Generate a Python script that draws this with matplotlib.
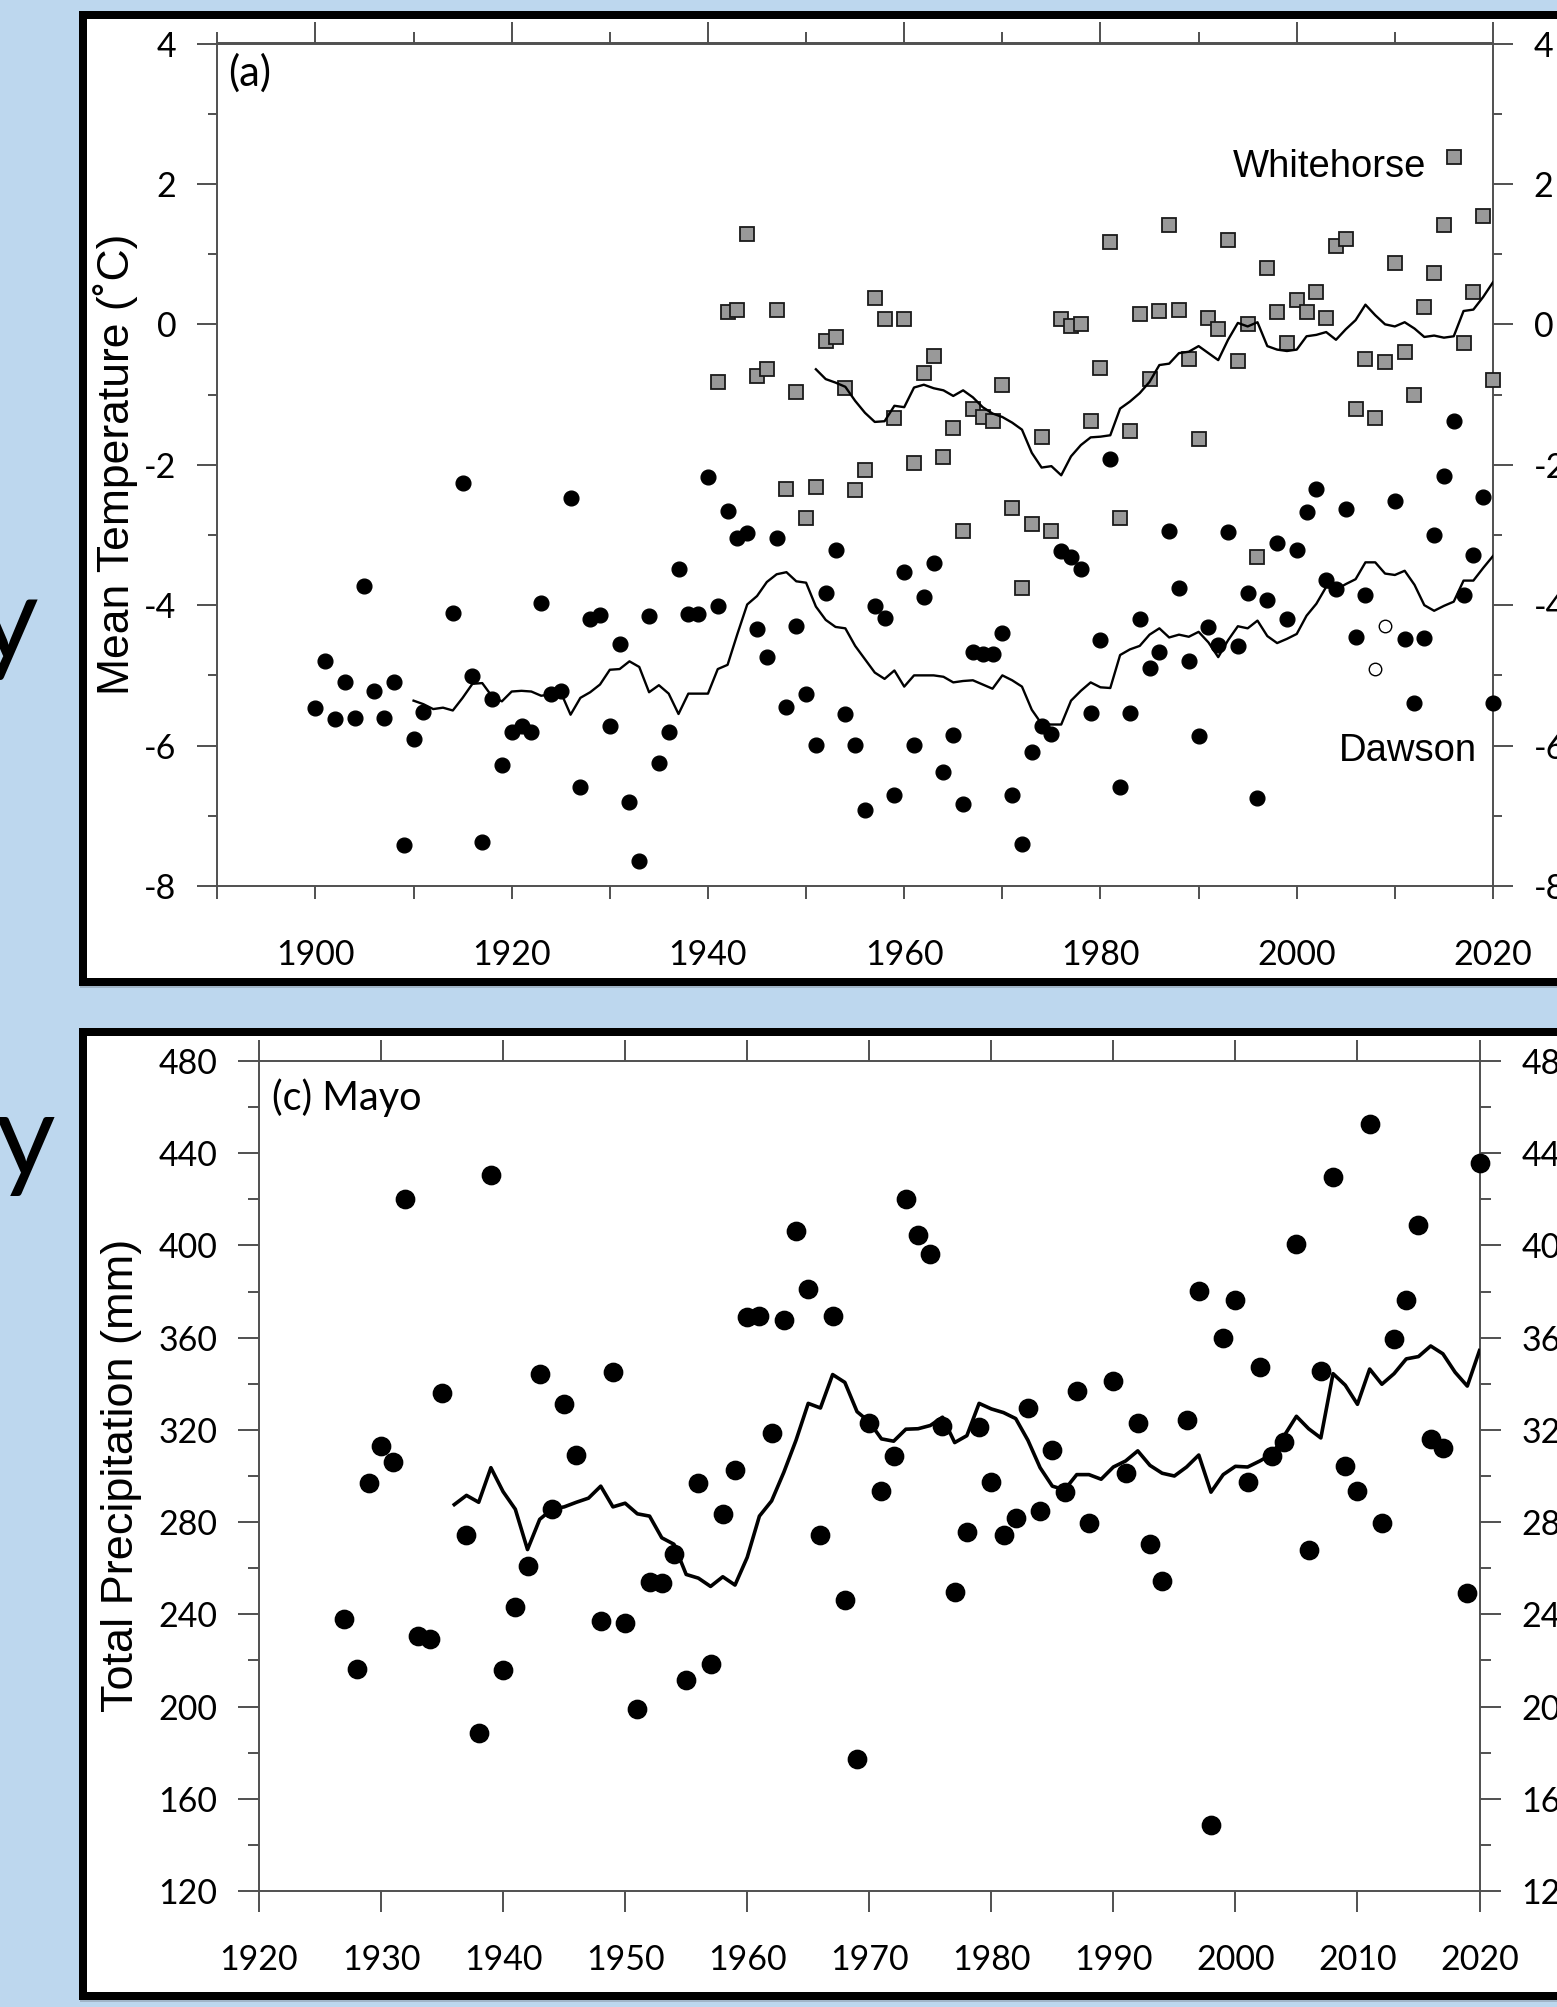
import matplotlib
matplotlib.use("Agg")
import matplotlib.pyplot as plt
from matplotlib.ticker import MultipleLocator
from matplotlib.patches import Rectangle

plt.rcParams['axes.unicode_minus'] = False

# ---------------- data: panel (a) temperature ----------------
dawson_years = [1900, 1901, 1902, 1903, 1904, 1905, 1906, 1907, 1908, 1909, 1910, 1911,
                1914, 1915, 1916, 1917, 1918, 1919, 1920, 1921, 1922, 1923, 1924, 1925,
                1926, 1927, 1928, 1929, 1930, 1931, 1932, 1933, 1934, 1935, 1936, 1937,
                1938, 1939, 1940, 1941, 1942, 1943, 1944, 1945, 1946, 1947, 1948, 1949,
                1950, 1951, 1952, 1953, 1954, 1955, 1956, 1957, 1958, 1959, 1960, 1961,
                1962, 1963, 1964, 1965, 1966, 1967, 1968, 1969, 1970, 1971, 1972, 1973,
                1974, 1975, 1976, 1977, 1978, 1979, 1980, 1981, 1982, 1983, 1984, 1985,
                1986, 1987, 1988, 1989, 1990, 1991, 1992, 1993, 1994, 1995, 1996, 1997,
                1998, 1999, 2000, 2001, 2002, 2003, 2004, 2005, 2006, 2007, 2010, 2011,
                2012, 2013, 2014, 2015, 2016, 2017, 2018, 2019, 2020]
dawson_temp = [-5.47, -4.80, -5.62, -5.09, -5.60, -3.72, -5.22, -5.60, -5.09, -7.42, -5.90, -5.52,
               -4.11, -2.26, -5.01, -7.38, -5.33, -6.28, -5.81, -5.72, -5.80, -3.97, -5.27, -5.22,
               -2.47, -6.59, -4.20, -4.14, -5.72, -4.55, -6.80, -7.64, -4.16, -6.25, -5.80, -3.49,
               -4.12, -4.12, -2.18, -4.01, -2.66, -3.05, -2.97, -4.34, -4.74, -3.05, -5.45, -4.30,
               -5.26, -5.99, -3.82, -3.22, -5.55, -5.99, -6.92, -4.01, -4.18, -6.70, -3.53, -5.99,
               -3.89, -3.40, -6.37, -5.85, -6.83, -4.66, -4.69, -4.69, -4.39, -6.71, -7.40, -6.09,
               -5.72, -5.83, -3.23, -3.32, -3.48, -5.54, -4.50, -1.92, -6.59, -5.54, -4.19, -4.90,
               -4.67, -2.94, -3.75, -4.79, -5.87, -4.31, -4.57, -2.96, -4.58, -3.83, -6.75, -3.92,
               -3.11, -4.19, -3.21, -2.67, -2.34, -3.64, -3.77, -2.63, -4.46, -3.85, -2.52, -4.48,
               -5.40, -4.47, -3.00, -2.16, -1.38, -3.85, -3.29, -2.46, -5.40]

dawson_open_years = [2008, 2009]
dawson_open_temp = [-4.91, -4.29]

dawson_mean_years = list(range(1910, 2021))
dawson_mean = [-5.36, -5.41, -5.48, -5.46, -5.50, -5.32, -5.12, -5.11, -5.30, -5.37,
               -5.23, -5.22, -5.23, -5.29, -5.27, -5.24, -5.56, -5.32, -5.24, -5.13,
               -4.92, -4.91, -4.80, -4.88, -5.24, -5.14, -5.26, -5.55, -5.26, -5.26,
               -5.26, -4.91, -4.85, -4.41, -3.99, -3.87, -3.67, -3.56, -3.53, -3.66,
               -3.68, -4.02, -4.21, -4.31, -4.33, -4.58, -4.77, -4.96, -5.05, -4.93,
               -5.16, -5.00, -5.00, -5.00, -5.02, -5.10, -5.08, -5.07, -5.13, -5.19,
               -5.00, -5.07, -5.16, -5.49, -5.69, -5.70, -5.70, -5.36, -5.22, -5.10,
               -5.17, -5.18, -4.71, -4.63, -4.58, -4.42, -4.33, -4.46, -4.42, -4.45,
               -4.38, -4.53, -4.74, -4.50, -4.30, -4.33, -4.22, -4.44, -4.54, -4.48,
               -4.41, -4.15, -3.98, -3.74, -3.78, -3.70, -3.63, -3.39, -3.39, -3.55,
               -3.57, -3.51, -3.71, -4.00, -4.08, -4.01, -3.95, -3.65, -3.65, -3.47,
               -3.30]

whitehorse_years = list(range(1941, 2021))
whitehorse_temp = [-0.82, 0.18, 0.21, 1.29, -0.74, -0.63, 0.21, -2.34, -0.97,
                   -2.76, -2.32, -0.24, -0.18, -0.91, -2.36, -2.07, 0.38, 0.07, -1.33,
                   0.07, -1.97, -0.70, -0.45, -1.89, -1.47, -2.95, -1.21, -1.32, -1.38,
                   -0.86, -2.61, -3.76, -2.85, -1.61, -2.95, 0.07, -0.02, 0.00, -1.37,
                   -0.62, 1.17, -2.76, -1.52, 0.15, -0.78, 0.19, 1.42, 0.21, -0.50,
                   -1.64, 0.09, -0.06, 1.20, -0.52, 0.00, -3.31, 0.80, 0.17, -0.27,
                   0.34, 0.17, 0.46, 0.09, 1.11, 1.21, -1.20, -0.50, -1.33, -0.54,
                   0.88, -0.39, -1.00, 0.25, 0.73, 1.42, 2.38, -0.27, 0.46, 1.54,
                   -0.79]

whitehorse_mean_years = list(range(1951, 2021))
whitehorse_mean = [-0.64, -0.78, -0.83, -0.89, -1.09, -1.26, -1.39, -1.38, -1.16,
                   -1.18, -0.90, -0.86, -0.91, -0.94, -1.02, -0.94, -1.04, -1.18, -1.27,
                   -1.32, -1.40, -1.50, -1.83, -2.04, -2.02, -2.15, -1.88, -1.72, -1.61,
                   -1.60, -1.58, -1.20, -1.10, -0.98, -0.82, -0.58, -0.56, -0.41, -0.39,
                   -0.31, -0.41, -0.51, -0.22, 0.02, -0.03, 0.03, -0.31, -0.36, -0.38,
                   -0.36, -0.17, -0.15, -0.11, -0.22, -0.07, 0.06, 0.28, 0.13, 0.00,
                   -0.03, 0.03, -0.06, -0.18, -0.16, -0.19, -0.17, 0.19, 0.21, 0.39,
                   0.60]

# ---------------- data: panel (c) Mayo precipitation ----------------
mayo_years = [1927, 1928, 1929, 1930, 1931, 1932, 1933, 1934, 1935, 1937, 1938, 1939,
              1940, 1941, 1942, 1943, 1944, 1945, 1946, 1948, 1949, 1950, 1951, 1952,
              1953, 1954, 1955, 1956, 1957, 1958, 1959, 1960, 1961, 1962, 1963, 1964,
              1965, 1966, 1967, 1968, 1969, 1970, 1971, 1972, 1973, 1974, 1975, 1976,
              1977, 1978, 1979, 1980, 1981, 1982, 1983, 1984, 1985, 1986, 1987, 1988,
              1990, 1991, 1992, 1993, 1994, 1996, 1997, 1998, 1999, 2000, 2001, 2002,
              2003, 2004, 2005, 2006, 2007, 2008, 2009, 2010, 2011, 2012, 2013, 2014,
              2015, 2016, 2017, 2019, 2020]
mayo_precip = [237.8, 216.5, 296.8, 313.1, 306.1, 420.1, 230.4, 229.2, 336.2, 274.3, 188.4, 430.7,
               215.9, 243.0, 261.1, 344.4, 285.6, 331.3, 309.3, 237.2, 345.0, 236.2, 198.9, 254.1,
               253.7, 266.1, 211.5, 296.8, 218.5, 283.6, 302.4, 369.1, 369.3, 318.7, 367.5, 406.2,
               381.3, 274.3, 369.5, 246.2, 177.2, 323.1, 293.6, 308.7, 420.1, 404.6, 396.2, 321.5,
               249.7, 275.7, 321.3, 297.6, 274.3, 281.8, 329.5, 285.0, 311.1, 293.2, 337.0, 279.4,
               341.4, 301.2, 323.1, 270.5, 254.3, 324.5, 380.1, 148.5, 360.0, 376.3, 297.6, 347.4,
               308.5, 314.9, 400.8, 268.1, 345.4, 429.5, 304.4, 293.6, 452.6, 279.4, 359.4, 376.3,
               408.8, 316.1, 312.3, 249.1, 435.7]

mayo_mean_years = list(range(1936, 2021))
mayo_mean = [287.6, 291.6, 288.6, 303.6, 293.2, 285.6, 268.1, 281.2, 285.6, 286.6,
             288.6, 290.4, 295.6, 286.6, 288.2, 283.6, 282.6, 273.2, 270.4, 257.3,
             255.7, 252.1, 256.3, 252.7, 264.7, 282.6, 289.2, 301.6, 315.5, 331.5,
             329.5, 344.0, 340.6, 327.9, 323.5, 316.1, 315.1, 320.3, 320.5, 321.9,
             325.5, 314.5, 317.5, 331.5, 329.1, 327.5, 324.9, 315.5, 303.6, 295.6,
             294.0, 300.6, 300.6, 298.6, 303.9, 306.5, 310.9, 304.6, 301.2, 300.0,
             303.9, 309.1, 293.0, 300.6, 304.2, 303.9, 306.5, 309.5, 317.5, 325.9,
             320.5, 316.5, 344.4, 339.4, 331.1, 346.4, 339.8, 344.4, 350.8, 351.8,
             356.4, 353.0, 345.0, 339.0, 354.4]

# ---------------- layout helpers (pixels) ----------------
W, H = 1557, 2007
PT = 0.72  # points per pixel at dpi 100


def fx(px):
    return px / W


def fy(py):
    return 1 - py / H


fig = plt.figure(figsize=(W / 100, H / 100), dpi=100)
fig.patch.set_facecolor('#BDD7EE')

# slide frames (white boxes with thick black outline + faint shadow)
for top, bot in [(15.2, 981.5), (1031.5, 1996.3)]:
    sh = Rectangle((fx(80), fy(bot + 6)), fx(1700) - fx(80), (bot - top) / H,
                   transform=fig.transFigure, facecolor='#7f8c99', edgecolor='none',
                   alpha=0.45, zorder=-6)
    fig.add_artist(sh)
    fr = Rectangle((fx(83), fy(bot)), fx(1700) - fx(83), (bot - top) / H,
                   transform=fig.transFigure, facecolor='white', edgecolor='black',
                   linewidth=8 * PT, zorder=-5)
    fig.add_artist(fr)

# cropped slide text on the left
fig.text(fx(38), fy(660), 'y', fontsize=86, family='Lato', ha='right', va='baseline')
fig.text(fx(56), fy(1176), 'py', fontsize=84, family='Lato', ha='right', va='baseline')

AX_COL = '#505050'
TICK_FONT = 'Lato'
LAB_FONT = ['Liberation Sans', 'DejaVu Sans']

# ---------------- panel (a) ----------------
ax1 = fig.add_axes([fx(217.3), fy(886), fx(1493) - fx(217.3), (886 - 43.5) / H])
ax1.set_xlim(1890, 2020)
ax1.set_ylim(-8, 4)

ax1.plot(dawson_years, dawson_temp, 'o', ms=10.6, mfc='black', mec='black',
         clip_on=False, zorder=3)
ax1.plot(dawson_open_years, dawson_open_temp, 'o', ms=9, mfc='white', mec='black',
         mew=1.0, clip_on=False, zorder=3)
ax1.plot(whitehorse_years, whitehorse_temp, 's', ms=10.2, mfc='#999999', mec='#1a1a1a',
         mew=1.3, clip_on=False, zorder=3)
ax1.plot(dawson_mean_years, dawson_mean, color='black', lw=1.7, zorder=4)
ax1.plot(whitehorse_mean_years, whitehorse_mean, color='black', lw=1.7, zorder=4)

ax1.text(2013.2, 2.10, 'Whitehorse', fontsize=27.5, family=LAB_FONT, ha='right',
         va='baseline')
ax1.text(2018.4, -6.215, 'Dawson', fontsize=27.5, family=LAB_FONT, ha='right',
         va='baseline')
ax1.text(0.0085, 0.988, '(a)', transform=ax1.transAxes, fontsize=30, family=TICK_FONT,
         ha='left', va='top')
ax1.set_ylabel('Mean Temperature (\u02daC)', fontsize=32, family=LAB_FONT)

ax1.xaxis.set_major_locator(MultipleLocator(20))
ax1.xaxis.set_minor_locator(MultipleLocator(10))
ax1.yaxis.set_major_locator(MultipleLocator(2))
ax1.yaxis.set_minor_locator(MultipleLocator(1))
ax1.tick_params(axis='x', which='both', direction='out', length=13 * PT, width=1.4,
                color=AX_COL, bottom=True, top=False, labelsize=24.5, pad=29)
ax1.tick_params(axis='y', which='major', direction='out', length=20 * PT, width=1.4,
                color=AX_COL, left=True, right=True, labelleft=True, labelright=True,
                labelsize=24.5, pad=15)
ax1.tick_params(axis='y', which='minor', direction='out', length=9 * PT, width=1.4,
                color=AX_COL, left=True, right=True)
sec = ax1.secondary_xaxis('top')
sec.xaxis.set_major_locator(MultipleLocator(20))
sec.xaxis.set_minor_locator(MultipleLocator(10))
sec.tick_params(axis='x', which='major', direction='out', length=21 * PT, width=1.4,
                color=AX_COL, labeltop=False)
sec.tick_params(axis='x', which='minor', direction='out', length=11 * PT, width=1.4,
                color=AX_COL)
sec.spines['top'].set_color(AX_COL)
sec.spines['top'].set_linewidth(1.4)

# ---------------- panel (c) ----------------
ax2 = fig.add_axes([fx(259), fy(1891), fx(1479.5) - fx(259), (1891 - 1061) / H])
ax2.set_xlim(1920, 2020)
ax2.set_ylim(120, 480)

ax2.plot(mayo_years, mayo_precip, 'o', ms=13.2, mfc='black', mec='black',
         clip_on=False, zorder=3)
ax2.plot(mayo_mean_years, mayo_mean, color='black', lw=2.6, zorder=4)

ax2.text(0.0107, 0.979, '(c) Mayo', transform=ax2.transAxes, fontsize=28.5,
         family=TICK_FONT, ha='left', va='top')
ax2.set_ylabel('Total Precipitation (mm)', fontsize=32.5, family=LAB_FONT)

ax2.xaxis.set_major_locator(MultipleLocator(10))
ax2.yaxis.set_major_locator(MultipleLocator(40))
ax2.yaxis.set_minor_locator(MultipleLocator(20))
ax2.tick_params(axis='x', which='major', direction='out', length=21 * PT, width=1.4,
                color=AX_COL, bottom=True, top=True, labelsize=24.5, pad=23)
ax2.tick_params(axis='y', which='major', direction='out', length=21 * PT, width=1.4,
                color=AX_COL, left=True, right=True, labelleft=True, labelright=True,
                labelsize=24.5, pad=15)
ax2.tick_params(axis='y', which='minor', direction='out', length=11 * PT, width=1.4,
                color=AX_COL, left=True, right=True)

for ax in (ax1, ax2):
    for s in ax.spines.values():
        s.set_color(AX_COL)
        s.set_linewidth(1.4)
    ax.set_facecolor('white')
    for lab in ax.get_xticklabels() + ax.get_yticklabels():
        lab.set_family(TICK_FONT)

# y-label positions (pixel-based)
ax1.yaxis.set_label_coords((116 - 217.3) / (1493 - 217.3), 0.5)
ax2.yaxis.set_label_coords((122 - 259) / (1479.5 - 259), (1891 - 1475) / (1891 - 1061))
ax1.yaxis.label.set_va('center')
ax2.yaxis.label.set_va('center')

fig.savefig('out.png', dpi=100, facecolor=fig.get_facecolor())
